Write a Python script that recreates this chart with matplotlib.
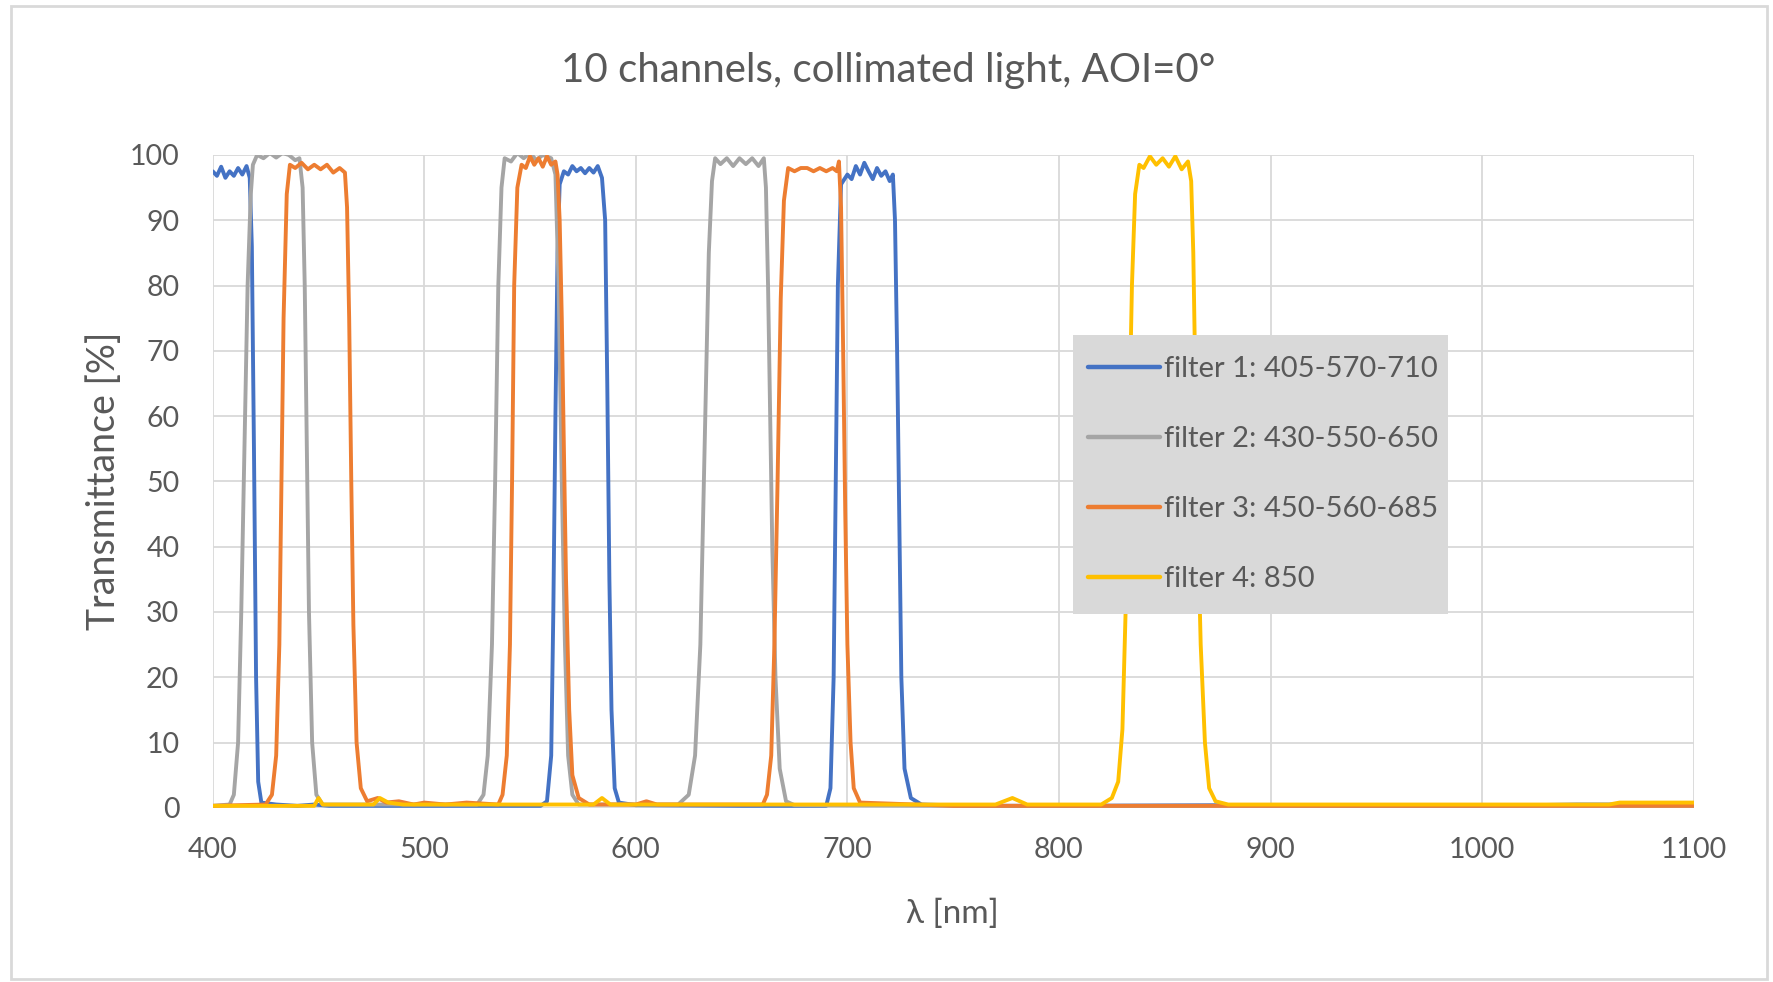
import matplotlib
matplotlib.use("Agg")
import matplotlib.pyplot as plt
from matplotlib.patches import Rectangle

plt.rcParams['font.family'] = ['Lato', 'DejaVu Sans']

title = "10 channels, collimated light, AOI=0°"
xlabel = "λ [nm]"
ylabel = "Transmittance [%]"
labels = ["filter 1: 405-570-710", "filter 2: 430-550-650",
          "filter 3: 450-560-685", "filter 4: 850"]
colors = ["#4472C4", "#A5A5A5", "#ED7D31", "#FFC000"]
xticks = [400, 500, 600, 700, 800, 900, 1000, 1100]
yticks = [0, 10, 20, 30, 40, 50, 60, 70, 80, 90, 100]

f1_wl = [400, 402, 404, 406, 408, 410, 412, 414, 416, 417.5, 418.5, 419.5, 420.5, 421.5, 423, 430, 440, 448, 455,
         500, 540, 555, 558, 560, 561, 562, 563, 564, 566, 568, 570, 572, 574, 576, 578, 580, 582, 584, 585.5,
         586.5, 587.5, 588.5, 590, 592, 600, 650, 690, 692, 693.5, 694.5, 695.5, 697, 700, 702, 704, 706, 708,
         710, 712, 714, 716, 718, 720, 721.5, 722.5, 723.5, 724.5, 725.5, 727, 730, 735, 760, 800, 880, 890,
         950, 1000, 1045, 1060, 1100]
f1_t = [97.5, 96.8, 98.2, 96.5, 97.5, 96.8, 98, 97, 98.3, 96.5, 86, 55, 20, 4, 0.8, 0.5, 0.3, 0.5, 0.3,
        0.3, 0.3, 0.3, 1, 8, 30, 60, 85, 95.5, 97.5, 97, 98.3, 97.5, 98, 97.2, 98, 97.3, 98.3, 96.5, 90,
        65, 35, 15, 3, 0.8, 0.4, 0.3, 0.3, 3, 20, 50, 80, 95.5, 97, 96.3, 98.3, 97, 98.8,
        97.5, 96.3, 98, 96.8, 97.5, 96, 97, 90, 70, 45, 20, 6, 1.5, 0.5, 0.3, 0.3, 0.4, 0.4,
        0.3, 0.3, 0.5, 0.5, 0.4]

f2_wl = [400, 408, 410, 412, 413.5, 415, 416.5, 418, 419, 421, 424, 427, 430, 433, 436, 439, 441, 442.5, 443.5,
         444.5, 445.5, 447, 449, 452, 500, 525, 528, 530, 532, 533.5, 535, 536.5, 538, 541, 544, 547, 550, 553,
         556, 560, 562, 563.5, 565, 566.5, 568, 570, 573, 600, 620, 625, 628, 630.5, 632.5, 634.5, 636, 637.5,
         640, 643, 646, 649, 652, 655, 658, 660.5, 661.5, 662.5, 663.5, 664.5, 666, 668, 671, 675, 750, 850,
         1000, 1100]
f2_t = [0.3, 0.5, 2, 10, 30, 55, 80, 94, 98.5, 100, 99.5, 100.3, 99.6, 100.3, 100, 99.2, 99.5, 95, 80,
        55, 30, 10, 2, 0.5, 0.5, 0.5, 2, 8, 25, 50, 80, 95, 99.5, 99, 100.3, 99.5, 100.3, 99.2,
        100, 99.5, 97, 80, 50, 25, 8, 2, 0.5, 0.5, 0.5, 2, 8, 25, 55, 85, 96, 99.5,
        98.6, 99.5, 98.3, 99.5, 98.6, 99.5, 98.3, 99.5, 95, 80, 60, 40, 20, 6, 1, 0.4, 0.3, 0.3,
        0.3, 0.3]

f3_wl = [400, 425, 428, 430, 431.5, 432.5, 433.5, 435, 436.5, 439, 442, 445, 448, 451, 454, 457, 460, 462.5,
         463.5, 464.5, 465.5, 466.5, 468, 470, 473, 478, 482, 488, 495, 500, 510, 520, 535, 537, 539, 540.5,
         541.5, 542.5, 544, 546, 548, 550, 552, 554, 556, 558, 560, 562, 563, 564, 565, 566, 567, 568.5, 570,
         573, 578, 600, 605, 610, 660, 662, 664, 665.5, 667, 668.5, 670, 672, 675, 678, 681, 684, 687, 690,
         693, 695, 696, 697, 698, 699, 700, 701.5, 703, 706, 750, 900, 1000, 1100]
f3_t = [0.3, 0.5, 2, 8, 25, 50, 75, 94, 98.5, 98, 98.8, 97.8, 98.5, 97.8, 98.5, 97.3, 98, 97.3,
        92, 75, 50, 28, 10, 3, 1, 1.5, 0.8, 1, 0.5, 0.8, 0.5, 0.8, 0.5, 2, 8, 25,
        50, 80, 95, 98.5, 98, 99.8, 98.5, 99.5, 98.2, 99.8, 98.5, 99, 97, 90, 75, 55, 35, 15, 5,
        1.5, 0.5, 0.5, 1, 0.5, 0.5, 2, 8, 25, 50, 78, 93, 98, 97.5, 98, 98, 97.5, 98, 97.5,
        98, 97.5, 99, 92, 70, 45, 25, 10, 3, 0.8, 0.3, 0.3, 0.3, 0.3]

f4_wl = [400, 448, 450, 452, 460, 476, 479, 483, 490, 580, 584, 588, 700, 770, 778, 785, 820, 825, 828, 830,
         831.5, 833, 834.5, 836, 838, 840, 843, 846, 849, 852, 855, 858, 861, 862.5, 863.5, 864.5, 865.5, 867,
         869, 871, 874, 880, 950, 1060, 1065, 1100]
f4_t = [0.3, 0.3, 1.5, 0.5, 0.5, 0.5, 1.5, 0.8, 0.5, 0.5, 1.5, 0.5, 0.5, 0.5, 1.5, 0.5, 0.5, 1.5, 4, 12,
        30, 55, 80, 94, 98.5, 98, 99.8, 98.5, 99.5, 98.2, 99.8, 97.8, 99, 96, 85, 65, 45, 25,
        10, 3, 1, 0.5, 0.5, 0.5, 0.8, 0.8]

series = [(f1_wl, f1_t), (f2_wl, f2_t), (f3_wl, f3_t), (f4_wl, f4_t)]

fig = plt.figure(figsize=(17.74, 9.82), dpi=100)
fig.patches.append(Rectangle((0.006, 0.003), 0.990, 0.991, transform=fig.transFigure,
                             fill=False, edgecolor='#d9d9d9', linewidth=2))
ax = fig.add_axes([0.1199, 0.1774, 0.8348, 0.6648])

for (wl, t), c, lab in zip(series, colors, labels):
    ax.plot(wl, t, color=c, lw=2.8, label=lab, solid_joinstyle='round', solid_capstyle='round')

ax.set_xlim(400, 1100)
ax.set_ylim(0, 100)
ax.set_xticks(xticks)
ax.set_yticks(yticks)
ax.grid(True, color='#d9d9d9', lw=1.3)
ax.set_axisbelow(True)
for s in ax.spines.values():
    s.set_visible(False)
ax.tick_params(axis='both', length=0, labelsize=20.5, colors='#595959')
ax.tick_params(axis='x', pad=21)
ax.tick_params(axis='y', pad=24)

fig.text(0.5006, 0.928, title, ha='center', va='center', fontsize=29, color='#595959')
fig.text(0.537, 0.069, xlabel, ha='center', va='center', fontsize=24, color='#595959')
fig.text(0.0585, 0.51, ylabel, ha='center', va='center', rotation=90, fontsize=27, color='#595959')

# legend background box
ax.add_patch(Rectangle((0.6046, 0.3744), 0.8163 - 0.6046, 0.659 - 0.3744, transform=fig.transFigure,
                       facecolor='#d9d9d9', edgecolor='none', zorder=4, clip_on=False))

leg = ax.legend(loc='upper left', bbox_to_anchor=(0.6135, 0.6375), bbox_transform=fig.transFigure,
                fontsize=21, frameon=False, handlelength=2.45, handletextpad=0.15,
                labelspacing=1.51, borderpad=0, borderaxespad=0)
leg.set_zorder(5)
for txt in leg.get_texts():
    txt.set_color('#595959')
for ln in leg.get_lines():
    ln.set_linewidth(3.2)

fig.savefig('out.png', dpi=100)
